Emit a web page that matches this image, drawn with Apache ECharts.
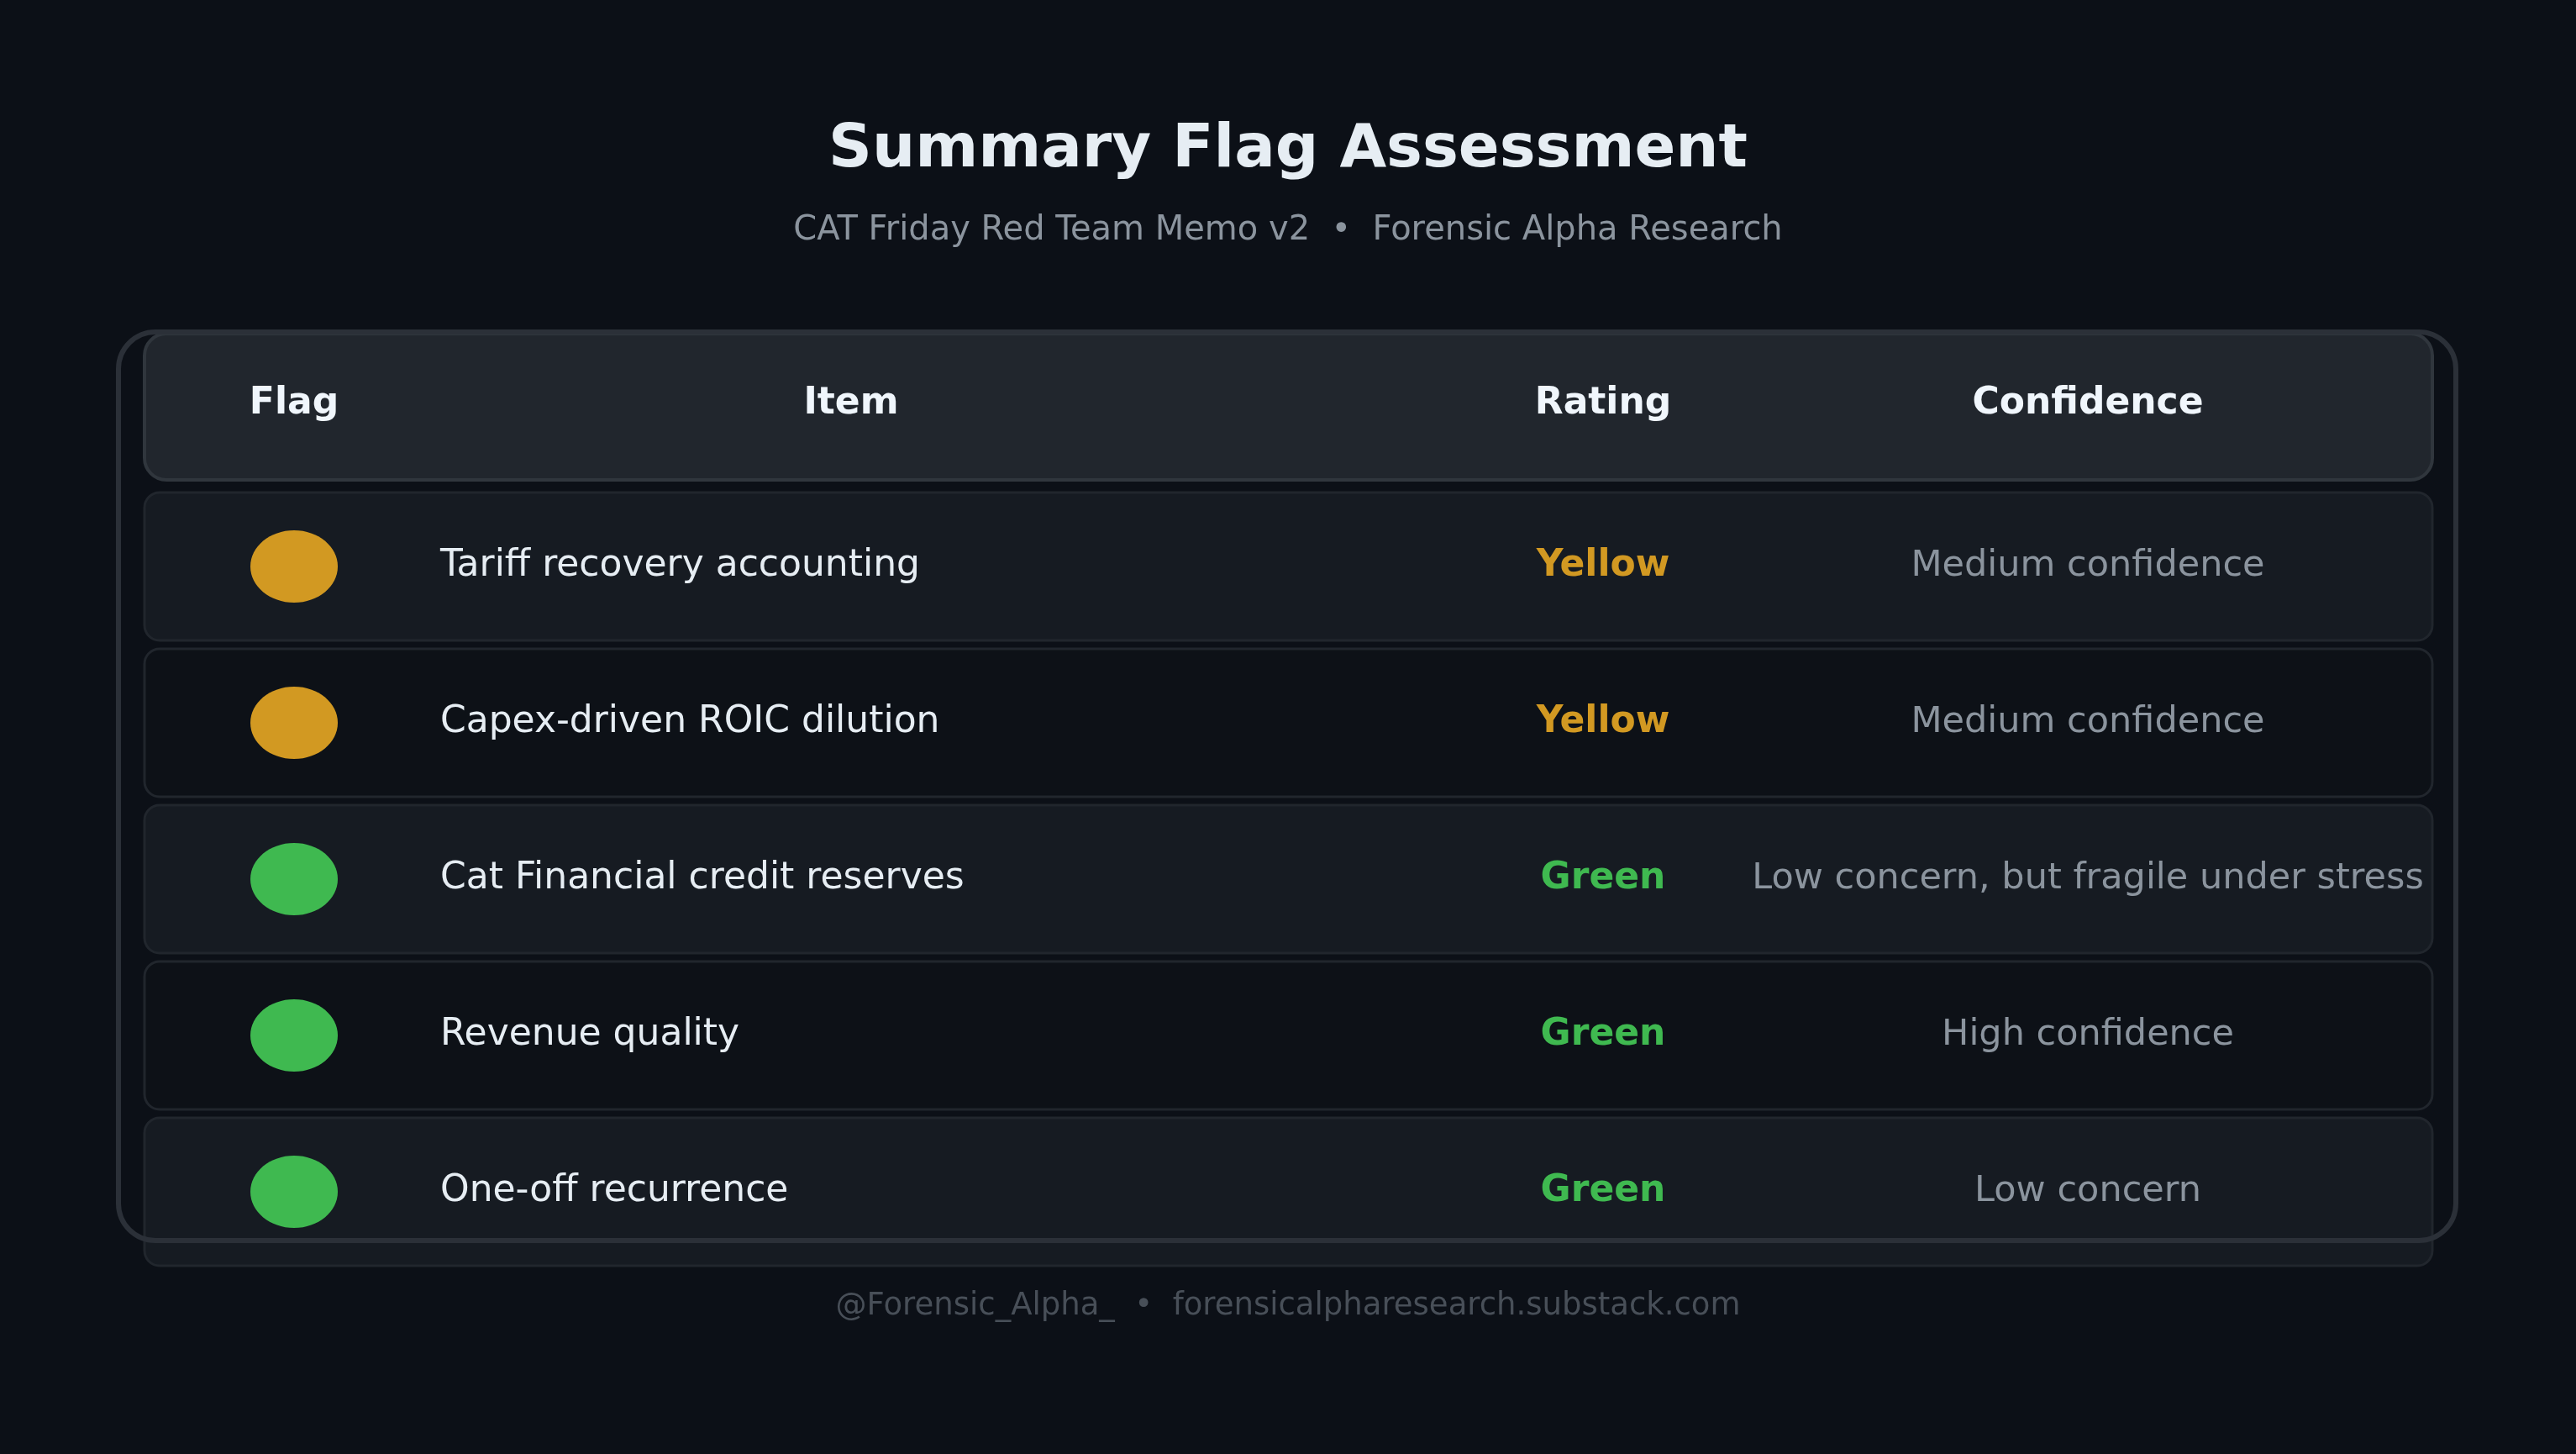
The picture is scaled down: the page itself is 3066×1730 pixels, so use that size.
<!DOCTYPE html>
<html><head><meta charset="utf-8">
<script src="https://cdn.jsdelivr.net/npm/echarts@6/dist/echarts.min.js"></script>
<style>html,body{margin:0;background:#0c1017}#c{width:3066px;height:1730px}</style>
</head><body><div id="c"></div>
<script>
const items = ["Tariff recovery accounting","Capex-driven ROIC dilution","Cat Financial credit reserves","Revenue quality","One-off recurrence"];
const ratings = ["Yellow","Yellow","Green","Green","Green"];
const confidence = ["Medium confidence","Medium confidence","Low concern, but fragile under stress","High confidence","Low concern"];
const headers = ["Flag","Item","Rating","Confidence"];
const colors = {Yellow:"#d29922", Green:"#3fb950"};
const F = "DejaVu Sans";
const chart = echarts.init(document.getElementById('c'));
chart.setOption({
  backgroundColor:"#0c1017",
  title:{text:"Summary Flag Assessment", subtext:"CAT Friday Red Team Memo v2  •  Forensic Alpha Research",
    left:"center", top:138, itemGap:40,
    textStyle:{color:"#e6edf3",fontSize:72,fontWeight:"bold",fontFamily:F},
    subtextStyle:{color:"#8b949e",fontSize:40,fontFamily:F}},
  grid:{left:0,right:0,top:581,bottom:219},
  xAxis:{type:"value",min:0,max:3066,show:false},
  yAxis:{type:"category",inverse:true,data:items,show:false},
  graphic:[
    {type:"rect",shape:{x:172,y:397,width:2723,height:174,r:26},style:{fill:"#21262d",stroke:"#30363d",lineWidth:4},z:1},
    {type:"rect",shape:{x:141,y:395,width:2782,height:1081,r:44},style:{fill:"none",stroke:"#2b3038",lineWidth:6},z:100},
    ...headers.map((h,i)=>({type:"text",x:[350,1013,1908,2485][i],y:481,z:2,
      style:{text:h,fill:"#f0f6fc",font:"bold 44px '"+F+"'",textAlign:"center",textVerticalAlign:"middle"}})),
    {type:"text",x:1533,y:1554,style:{text:"@Forensic_Alpha_  •  forensicalpharesearch.substack.com",fill:"#484f58",font:"37px '"+F+"'",textAlign:"center",textVerticalAlign:"middle"}}
  ],
  series:[{type:"custom",
    data:items.map((t,i)=>[i]),
    renderItem:(p,api)=>{
      const i=api.value(0); const c=api.coord([0,i]); const y=c[1];
      const col=colors[ratings[i]];
      return {type:"group",children:[
        {type:"rect",shape:{x:172,y:y-88,width:2723,height:176,r:18},style:{fill:i%2===0?"#161b22":"#0d1117",stroke:"#21262d",lineWidth:3}},
        {type:"ellipse",shape:{cx:350,cy:y,rx:52,ry:43},style:{fill:col}},
        {type:"text",style:{x:524,y:y,text:items[i],fill:"#e6edf3",font:"44px '"+F+"'",textVerticalAlign:"middle"}},
        {type:"text",style:{x:1908,y:y,text:ratings[i],fill:col,font:"bold 44px '"+F+"'",textAlign:"center",textVerticalAlign:"middle"}},
        {type:"text",style:{x:2485,y:y,text:confidence[i],fill:"#8b949e",font:"43px '"+F+"'",textAlign:"center",textVerticalAlign:"middle"}}
      ]};
    }}]
});
</script></body></html>
